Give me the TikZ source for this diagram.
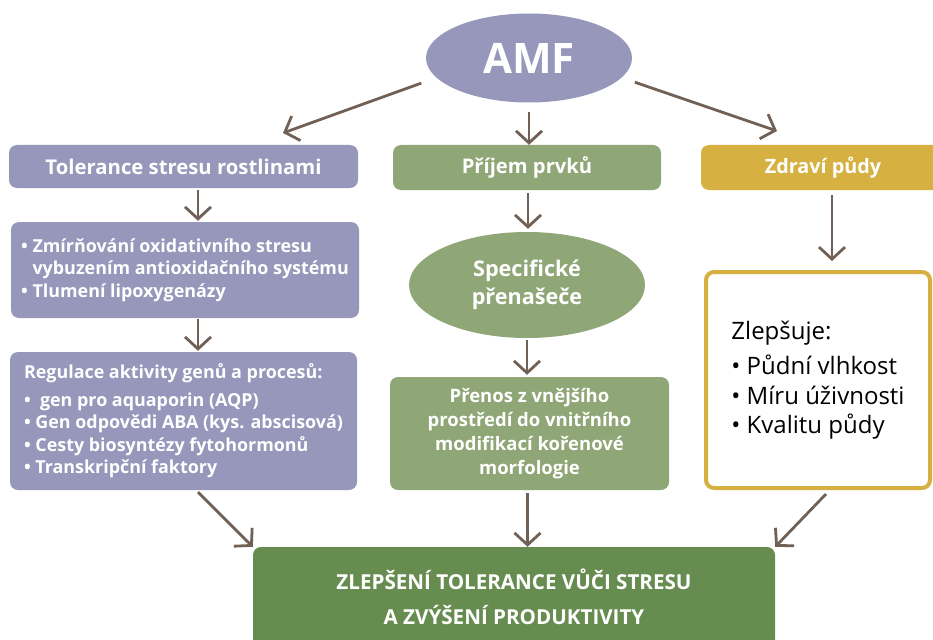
\documentclass[tikz,border=0pt]{standalone}
\usepackage{fontspec}
\setmainfont{Open Sans}
\usetikzlibrary{arrows.meta,shapes.geometric}
\definecolor{lav}{RGB}{150,151,186}
\definecolor{lgreen}{RGB}{143,166,118}
\definecolor{dgreen}{RGB}{103,140,80}
\definecolor{gold}{RGB}{214,176,64}
\definecolor{arrowc}{RGB}{112,96,86}
\begin{document}
\begin{tikzpicture}[x=1pt,y=-1pt,
  arr/.style={draw=arrowc, line width=2.8pt, -{Straight Barb[length=12pt,width=26pt]}},
  boxbase/.style={rounded corners=8pt, inner sep=0pt, text=white, align=center},
  lavbox/.style={boxbase, fill=lav},
  greenbox/.style={boxbase, fill=lgreen},
  txtb/.style={font=\bfseries\fontsize{17.9}{22.5}\selectfont}]
\useasboundingbox (0,0) rectangle (933,639);
\clip (0,0) rectangle (933,639);

% AMF
\node[ellipse, fill=lav, inner sep=0pt, minimum width=206pt, minimum height=89pt,
  text=white, font=\bfseries\fontsize{42}{50}\selectfont] (amf) at (529,58) {AMF};

% left column
\node[lavbox, minimum width=349pt, minimum height=43pt,
  font=\bfseries\fontsize{20.3}{24}\selectfont] (b1) at (183.5,166.5) {Tolerance stresu rostlinami};
\node[lavbox, minimum width=348pt, minimum height=96pt, align=left, txtb] (b2) at (185,270)
  {• Zmírňování oxidativního stresu\\\phantom{• }vybuzením antioxidačního systému\\• Tlumení lipoxygenázy};
\node[lavbox, minimum width=347pt, minimum height=138pt, align=left, txtb] (b3) at (183.5,421)
  {Regulace aktivity genů a procesů:\\[5pt]•\ \ gen pro aquaporin (AQP)\\• Gen odpovědi ABA (kys. abscisová)\\• Cesty biosyntézy fytohormonů\\• Transkripční faktory};

% middle column
\node[greenbox, minimum width=268pt, minimum height=45pt,
  font=\bfseries\fontsize{20.2}{24}\selectfont] (m1) at (527,167.5) {Příjem prvků};
\node[ellipse, fill=lgreen, inner sep=0pt, minimum width=236pt, minimum height=106pt,
  text=white, align=center, font=\bfseries\fontsize{21.6}{28}\selectfont] (sp) at (527,285) {Specifické\\přenašeče};
\node[greenbox, minimum width=279pt, minimum height=113pt,
  font=\bfseries\fontsize{18.5}{24}\selectfont] (m3) at (529.5,433.5)
  {Přenos z vnějšího\\prostředí do vnitřního\\modifikací kořenové\\morfologie};

% right column
\node[boxbase, fill=gold, minimum width=244pt, minimum height=45pt,
  font=\bfseries\fontsize{19.8}{24}\selectfont] (zd) at (823,167.5) {Zdraví půdy};
\node[rounded corners=8pt, draw=gold, line width=4pt, fill=white, minimum width=224pt, minimum height=216pt,
  inner sep=0pt, align=left, font=\fontsize{24}{29.5}\selectfont] (w) at (818,380)
  {Zlepšuje:\\[6pt]• Půdní vlhkost\\• Míru úživnosti\\• Kvalitu půdy};

% bottom
\node[boxbase, fill=dgreen, minimum width=522pt, minimum height=100pt,
  font=\bfseries\fontsize{20.6}{35}\selectfont] (fin) at (514,597)
  {ZLEPŠENÍ TOLERANCE VŮČI STRESU\\A ZVÝŠENÍ PRODUKTIVITY};

% connectors
\coordinate (t1) at (283,133);
\coordinate (t3) at (777,131);
\draw[arr, shorten <=16pt] (amf.192) -- (t1);
\draw[arr, shorten <=9pt] (amf.south) -- (amf.south |- m1.north);
\draw[arr, shorten <=14pt] (amf.-12) -- (t3);

\draw[arr] ([xshift=14.5pt,yshift=-2pt]b1.south) -- ([xshift=13pt,yshift=1pt]b2.north);
\draw[arr] ([xshift=13pt,yshift=-1pt]b2.south) -- ([xshift=14.5pt,yshift=1pt]b3.north);
\draw[arr] ([xshift=14.5pt,yshift=-2pt]b3.south) -- (fin.north west);

\draw[arr] ([xshift=1pt,yshift=-3pt]m1.south) -- ([xshift=1pt,yshift=3pt]sp.north);
\draw[arr] ([yshift=-2pt]sp.south) -- ([xshift=-2.5pt,yshift=2pt]m3.north);
\draw[arr] ([xshift=-2pt,yshift=-3pt]m3.south) -- ([xshift=-2pt]m3.south |- fin.north);

\draw[arr] ([xshift=9pt,yshift=-5pt]zd.south) -- ([xshift=14pt,yshift=9pt]w.north);
\draw[arr] ([xshift=8pt,yshift=-4pt]w.south) -- (fin.north east);
\end{tikzpicture}
\end{document}
